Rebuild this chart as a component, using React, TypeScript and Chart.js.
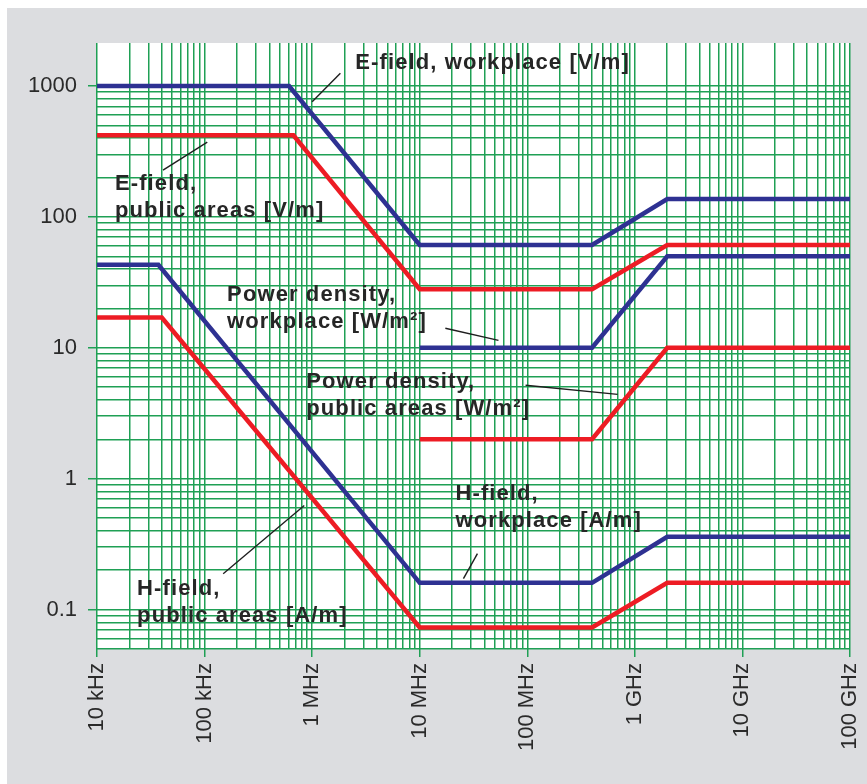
import React, { useEffect, useRef } from 'react';
import { Chart, registerables } from 'chart.js';

Chart.register(...registerables);

// ---- Data (frequency in Hz, limit values) ----
const eWorkFreq = [1e4, 6.1e5, 1e7, 4e8, 2e9, 1e11];
const eWorkVal = [1000, 1000, 61, 61, 137, 137];
const ePubFreq = [1e4, 6.7e5, 1e7, 4e8, 2e9, 1e11];
const ePubVal = [420, 420, 28, 28, 61, 61];
const pdWorkFreq = [1e7, 4e8, 2e9, 1e11];
const pdWorkVal = [10, 10, 50, 50];
const pdPubFreq = [1e7, 4e8, 2e9, 1e11];
const pdPubVal = [2, 2, 10, 10];
const hWorkFreq = [1e4, 3.72e4, 1e7, 4e8, 2e9, 1e11];
const hWorkVal = [43, 43, 0.16, 0.16, 0.36, 0.36];
const hPubFreq = [1e4, 4e4, 1e7, 4e8, 2e9, 1e11];
const hPubVal = [17, 17, 0.073, 0.073, 0.16, 0.16];

// ---- Tick labels ----
const xTickValues = [1e4, 1e5, 1e6, 1e7, 1e8, 1e9, 1e10, 1e11];
const xTickLabels = ['10 kHz', '100 kHz', '1 MHz', '10 MHz', '100 MHz', '1 GHz', '10 GHz', '100 GHz'];
const yTickValues = [0.1, 1, 10, 100, 1000];
const yTickLabels = ['0.1', '1', '10', '100', '1000'];

// ---- Annotations (data coordinates) ----
const annotationTexts = [
  ['E-field, workplace [V/m]'],
  ['E-field,', 'public areas [V/m]'],
  ['Power density,', 'workplace [W/m²]'],
  ['Power density,', 'public areas [W/m²]'],
  ['H-field,', 'workplace [A/m]'],
  ['H-field,', 'public areas [A/m]'],
];
const annotationX = [2.52e6, 1.47e4, 1.62e5, 8.82e5, 2.15e7, 2.36e4];
const annotationY = [1500, 178, 25.2, 5.45, 0.771, 0.145];
const leaderFromX = [1e6, 4.11e4, 1.73e7, 9.64e7, 2.55e7, 1.49e5];
const leaderFromY = [758, 228, 14.1, 5.17, 0.1726, 0.188];
const leaderToX = [1.83e6, 1.06e5, 5.4e7, 6.92e8, 3.44e7, 8.45e5];
const leaderToY = [1250, 373, 11.4, 4.41, 0.268, 0.624];

const X_MIN = 1e4;
const X_MAX = 1e11;
const Y_MIN = 0.05;
const Y_MAX = 2130;

const GREEN = '#1fa055';
const BLUE = '#2e3192';
const RED = '#ed1c24';
const FONT = '"Liberation Sans", Arial, Helvetica, sans-serif';

function gridValues(eFrom: number, eTo: number, lo: number, hi: number): number[] {
  const out: number[] = [];
  for (let e = eFrom; e <= eTo; e++) {
    for (let m = 1; m <= 9; m++) {
      const v = Number((m * Math.pow(10, e)).toPrecision(6));
      if (v >= lo * 0.9999 && v <= hi * 1.0001) out.push(v);
    }
  }
  return out;
}

const xGrid = gridValues(4, 11, X_MIN, X_MAX);
const yGrid = gridValues(-2, 3, Y_MIN, 1000);

function isDecade(v: number | undefined): boolean {
  if (v === undefined || v <= 0) return false;
  const l = Math.log10(v);
  return Math.abs(l - Math.round(l)) < 1e-6;
}

function labelFor(v: number, values: number[], labels: string[]): string {
  for (let i = 0; i < values.length; i++) {
    if (Math.abs(v / values[i] - 1) < 1e-6) return labels[i];
  }
  return '';
}

function series(fx: number[], fy: number[]) {
  return fx.map((f, i) => ({ x: f, y: fy[i] }));
}

const bgPlugin = {
  id: 'plotBg',
  beforeDraw(chart: any) {
    const { ctx, chartArea } = chart;
    ctx.save();
    ctx.fillStyle = '#ffffff';
    ctx.fillRect(chartArea.left, chartArea.top, chartArea.right - chartArea.left, chartArea.bottom - chartArea.top);
    ctx.restore();
  },
};

const annotationPlugin = {
  id: 'annotations',
  afterDatasetsDraw(chart: any) {
    const { ctx } = chart;
    const xs = chart.scales.x;
    const ys = chart.scales.y;
    ctx.save();
    ctx.strokeStyle = '#1e1e1e';
    ctx.lineWidth = 1.4;
    for (let i = 0; i < leaderFromX.length; i++) {
      ctx.beginPath();
      ctx.moveTo(xs.getPixelForValue(leaderFromX[i]), ys.getPixelForValue(leaderFromY[i]));
      ctx.lineTo(xs.getPixelForValue(leaderToX[i]), ys.getPixelForValue(leaderToY[i]));
      ctx.stroke();
    }
    ctx.fillStyle = '#262626';
    ctx.font = `bold 22px ${FONT}`;
    (ctx as any).letterSpacing = '1.1px';
    ctx.textBaseline = 'middle';
    ctx.textAlign = 'left';
    for (let i = 0; i < annotationTexts.length; i++) {
      const px = xs.getPixelForValue(annotationX[i]);
      const py = ys.getPixelForValue(annotationY[i]);
      annotationTexts[i].forEach((t, j) => ctx.fillText(t, px, py + j * 27));
    }
    ctx.restore();
  },
};

export default function App() {
  const ref = useRef<HTMLCanvasElement>(null);

  useEffect(() => {
    const canvas = ref.current;
    if (!canvas) return;
    const lineDs = (label: string, fx: number[], fy: number[], color: string) => ({
      label,
      data: series(fx, fy),
      borderColor: color,
      backgroundColor: color,
      borderWidth: 4.5,
      pointRadius: 0,
      tension: 0,
      fill: false,
      borderJoinStyle: 'miter' as const,
    });
    const chart = new Chart(canvas, {
      type: 'line',
      data: {
        datasets: [
          lineDs('H-field, public areas [A/m]', hPubFreq, hPubVal, RED),
          lineDs('H-field, workplace [A/m]', hWorkFreq, hWorkVal, BLUE),
          lineDs('Power density, public areas [W/m²]', pdPubFreq, pdPubVal, RED),
          lineDs('Power density, workplace [W/m²]', pdWorkFreq, pdWorkVal, BLUE),
          lineDs('E-field, public areas [V/m]', ePubFreq, ePubVal, RED),
          lineDs('E-field, workplace [V/m]', eWorkFreq, eWorkVal, BLUE),
        ],
      },
      options: {
        responsive: false,
        animation: false,
        devicePixelRatio: 1,
        layout: { padding: { top: 35, right: 17, left: 0, bottom: 0 } },
        plugins: {
          legend: { display: false },
          tooltip: { enabled: false },
        },
        scales: {
          x: {
            type: 'logarithmic',
            min: X_MIN,
            max: X_MAX,
            bounds: 'data',
            afterBuildTicks: (s: any) => {
              s.ticks = xGrid.map((v) => ({ value: v, major: isDecade(v) }));
            },
            afterFit: (s: any) => {
              s.height = 135;
              s.paddingLeft = 0;
              s.paddingRight = 0;
            },
            border: { display: false },
            grid: {
              color: GREEN,
              lineWidth: 1.5,
              tickLength: 8,
              tickWidth: 1.5,
              tickColor: (c: any) => (isDecade(c.tick?.value) ? GREEN : 'rgba(0,0,0,0)'),
            },
            ticks: {
              autoSkip: false,
              minRotation: 90,
              maxRotation: 90,
              padding: 6,
              color: '#2a2a2a',
              font: { family: FONT, size: 22 },
              callback: (v: any) => labelFor(Number(v), xTickValues, xTickLabels),
            },
          },
          y: {
            type: 'logarithmic',
            min: Y_MIN,
            max: Y_MAX,
            bounds: 'data',
            afterBuildTicks: (s: any) => {
              s.ticks = yGrid.map((v) => ({ value: v, major: isDecade(v) }));
            },
            afterFit: (s: any) => {
              s.width = 90;
              s.paddingTop = 0;
              s.paddingBottom = 0;
            },
            border: { display: false },
            grid: {
              color: GREEN,
              lineWidth: 1.5,
              tickLength: 9,
              tickWidth: 1.5,
              tickColor: (c: any) => (isDecade(c.tick?.value) ? GREEN : 'rgba(0,0,0,0)'),
            },
            ticks: {
              autoSkip: false,
              padding: 11,
              color: '#2a2a2a',
              font: { family: FONT, size: 22 },
              callback: (v: any) => labelFor(Number(v), yTickValues, yTickLabels),
            },
          },
        },
      } as any,
      plugins: [bgPlugin, annotationPlugin],
    });
    return () => chart.destroy();
  }, []);

  return (
    <div
      style={{
        position: 'fixed',
        left: 7,
        top: 8,
        width: 860,
        height: 776,
        background: '#dcdde0',
      }}
    >
      <canvas ref={ref} width={860} height={776} style={{ display: 'block', width: 860, height: 776 }} />
    </div>
  );
}
